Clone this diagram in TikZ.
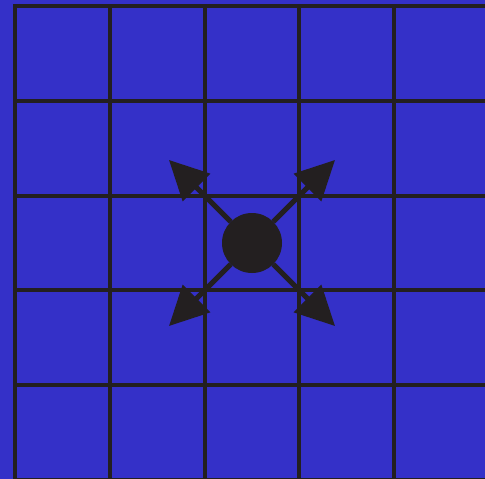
\documentclass[tikz,border=0pt]{standalone}
\usetikzlibrary{arrows.meta}
\definecolor{ink}{RGB}{35,31,32}
\definecolor{field}{RGB}{52,48,200}

\begin{document}
\begin{tikzpicture}[x=1pt,y=-1pt,gridline/.style={draw=ink,line width=4pt},dot/.style={circle,fill=ink,inner sep=0pt,minimum size=60pt},arrow/.style={-{Triangle[length=39pt,width=38pt]},line width=5pt,draw=ink}]
\fill[field] (0,0) rectangle (485,479);
\useasboundingbox (0,0) rectangle (485,479);
\foreach \i in {0,...,5} {\draw[gridline] ({15+94.75*\i},6) -- ({15+94.75*\i},481); \draw[gridline] (13,{6+94.75*\i}) -- (490,{6+94.75*\i});}
\node[dot] (dot) at (252,243) {};
\coordinate (nw) at (169,160); \coordinate (ne) at (335,160); \coordinate (sw) at (169,326); \coordinate (se) at (335,326);
\draw[arrow] (dot)--(nw); \draw[arrow] (dot)--(ne); \draw[arrow] (dot)--(sw); \draw[arrow] (dot)--(se);
\end{tikzpicture}
\end{document}
